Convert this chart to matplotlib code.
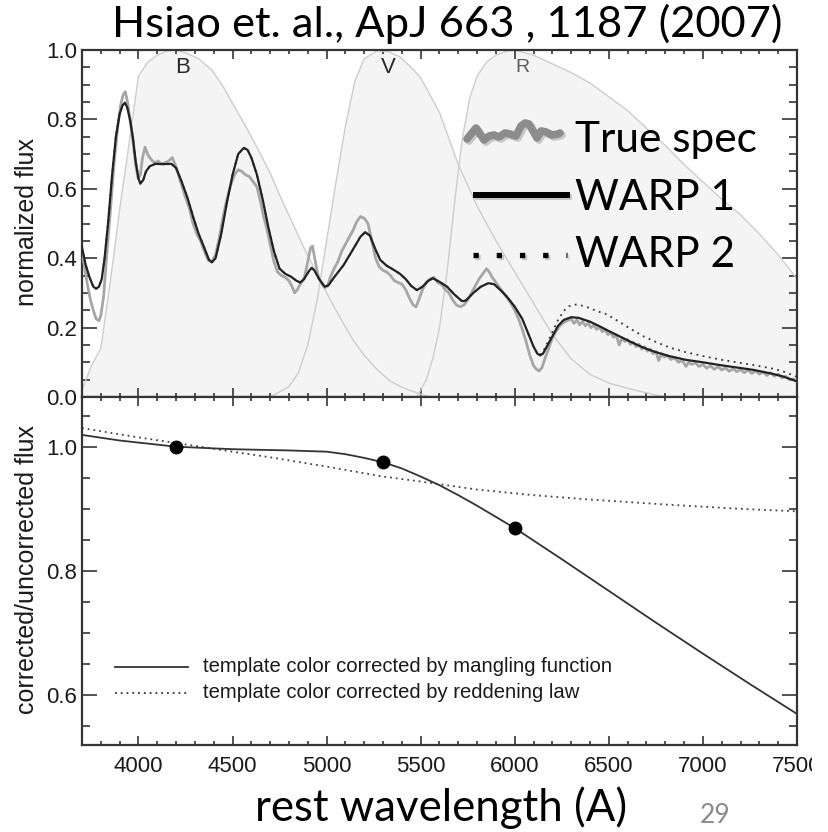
import matplotlib
matplotlib.use("Agg")
import matplotlib.pyplot as plt
import matplotlib.patheffects as pe
from matplotlib import font_manager as fm
from matplotlib.lines import Line2D
from matplotlib.ticker import MultipleLocator
from matplotlib.transforms import Bbox, TransformedBbox

# ---------------- data ----------------
# WARP 1 (mangled template), normalized flux
warp1_wave = [3700, 3720, 3740, 3760, 3775, 3790, 3805, 3820, 3840, 3860, 3880, 3900,
              3915, 3928, 3940, 3955, 3970, 3985, 4000, 4010, 4025, 4040, 4060, 4090,
              4130, 4175, 4200, 4230, 4260, 4290, 4320, 4350, 4375, 4390, 4410, 4440,
              4470, 4500, 4530, 4560, 4580, 4600, 4630, 4660, 4690, 4720, 4750, 4780,
              4810, 4840, 4860, 4880, 4905, 4920, 4935, 4960, 4990, 5010, 5040, 5090,
              5140, 5180, 5205, 5230, 5260, 5285, 5320, 5355, 5390, 5420, 5450, 5480,
              5510, 5540, 5565, 5600, 5640, 5680, 5720, 5740, 5780, 5820, 5860, 5890,
              5930, 5960, 6000, 6040, 6070, 6100, 6120, 6135, 6150, 6170, 6200, 6230,
              6260, 6300, 6340, 6400, 6450, 6500, 6560, 6620, 6680, 6740, 6820, 6910,
              7000, 7090, 7180, 7270, 7360, 7420, 7500]
warp1_flux = [0.43, 0.38, 0.345, 0.318, 0.312, 0.318, 0.34, 0.40, 0.51, 0.64, 0.75, 0.815,
              0.84, 0.848, 0.835, 0.80, 0.75, 0.68, 0.63, 0.615, 0.625, 0.65, 0.665, 0.672,
              0.671, 0.672, 0.66, 0.62, 0.575, 0.52, 0.47, 0.43, 0.395, 0.388, 0.40, 0.47,
              0.56, 0.64, 0.70, 0.718, 0.712, 0.69, 0.64, 0.57, 0.49, 0.42, 0.37, 0.355,
              0.347, 0.335, 0.33, 0.34, 0.362, 0.372, 0.365, 0.34, 0.318, 0.322, 0.345, 0.38,
              0.425, 0.462, 0.475, 0.465, 0.425, 0.395, 0.378, 0.367, 0.355, 0.34, 0.32, 0.308,
              0.318, 0.335, 0.342, 0.332, 0.318, 0.295, 0.276, 0.278, 0.30, 0.318, 0.328, 0.325,
              0.305, 0.288, 0.26, 0.225, 0.185, 0.145, 0.125, 0.12, 0.125, 0.145, 0.175, 0.205,
              0.222, 0.23, 0.228, 0.217, 0.204, 0.19, 0.174, 0.158, 0.143, 0.131, 0.118, 0.107,
              0.10, 0.092, 0.085, 0.078, 0.068, 0.06, 0.045]

# WARP 2 (reddening-law template): on top of WARP 1 in the blue, higher in the red
warp2_wave = [3700, 3720, 3740, 3760, 3775, 3790, 3805, 3820, 3840, 3860, 3880, 3900,
              3915, 3928, 3940, 3955, 3970, 3985, 4000, 4010, 4025, 4040, 4060, 4090,
              4130, 4175, 4200, 4230, 4260, 4290, 4320, 4350, 4375, 4390, 4410, 4440,
              4470, 4500, 4530, 4560, 4580, 4600, 4630, 4660, 4690, 4720, 4750, 4780,
              4810, 4840, 4860, 4880, 4905, 4920, 4935, 4960, 4990, 5010, 5040, 5090,
              5140, 5180, 5205, 5230, 5260, 5285, 5320, 5355, 5390, 5420, 5450, 5480,
              5510, 5540, 5565, 5600, 5640, 5680, 5720, 5740, 5780, 5820, 5860, 5890,
              5930, 5960, 6000, 6040, 6070, 6100, 6120, 6135, 6150, 6170, 6200, 6230,
              6260, 6290, 6330, 6380, 6440, 6490, 6560, 6620, 6680, 6740, 6820, 6910,
              7000, 7090, 7180, 7270, 7360, 7420, 7500]
warp2_flux = [0.43, 0.38, 0.345, 0.318, 0.312, 0.318, 0.34, 0.40, 0.51, 0.64, 0.75, 0.815,
              0.84, 0.848, 0.835, 0.80, 0.75, 0.68, 0.63, 0.615, 0.625, 0.65, 0.665, 0.672,
              0.671, 0.672, 0.66, 0.62, 0.575, 0.52, 0.47, 0.43, 0.395, 0.388, 0.40, 0.47,
              0.56, 0.64, 0.70, 0.718, 0.712, 0.69, 0.64, 0.57, 0.49, 0.42, 0.37, 0.355,
              0.347, 0.335, 0.33, 0.34, 0.362, 0.372, 0.365, 0.34, 0.318, 0.322, 0.345, 0.38,
              0.425, 0.462, 0.475, 0.465, 0.425, 0.395, 0.378, 0.367, 0.355, 0.34, 0.32, 0.308,
              0.318, 0.335, 0.342, 0.332, 0.318, 0.295, 0.276, 0.278, 0.30, 0.318, 0.328, 0.325,
              0.305, 0.288, 0.26, 0.225, 0.185, 0.145, 0.125, 0.122, 0.13, 0.152, 0.187, 0.222,
              0.248, 0.262, 0.267, 0.26, 0.247, 0.238, 0.215, 0.195, 0.176, 0.161, 0.143, 0.129,
              0.118, 0.108, 0.10, 0.092, 0.083, 0.075, 0.058]

# True spectrum (noisy)
true_wave = [3700, 3715, 3730, 3745, 3760, 3775, 3790, 3800, 3815, 3830, 3850, 3870,
             3890, 3905, 3918, 3930, 3942, 3955, 3970, 3985, 3998, 4010, 4022, 4035,
             4048, 4060, 4075, 4090, 4105, 4120, 4140, 4160, 4180, 4195, 4210, 4230,
             4250, 4270, 4290, 4310, 4330, 4350, 4370, 4390, 4410, 4430, 4450, 4470,
             4490, 4510, 4530, 4550, 4570, 4590, 4610, 4630, 4650, 4665, 4680, 4700,
             4720, 4740, 4760, 4780, 4800, 4815, 4830, 4845, 4860, 4880, 4900, 4915,
             4925, 4940, 4955, 4970, 4990, 5005, 5020, 5040, 5060, 5080, 5100, 5120,
             5140, 5160, 5180, 5200, 5220, 5240, 5260, 5280, 5300, 5320, 5340, 5360,
             5380, 5400, 5420, 5440, 5460, 5475, 5490, 5510, 5530, 5550, 5570, 5590,
             5610, 5630, 5650, 5670, 5690, 5710, 5730, 5750, 5770, 5790, 5810, 5830,
             5850, 5865, 5880, 5900, 5920, 5940, 5960, 5980, 6000, 6020, 6040, 6060,
             6080, 6100, 6115, 6130, 6145, 6160, 6180, 6200, 6220, 6240, 6260, 6280,
             6300, 6315, 6330, 6345, 6360, 6375, 6390, 6405, 6420, 6435, 6450, 6465,
             6480, 6495, 6510, 6525, 6540, 6555, 6570, 6585, 6600, 6615, 6630, 6645,
             6660, 6675, 6690, 6705, 6720, 6735, 6750, 6765, 6780, 6795, 6810, 6830,
             6850, 6870, 6890, 6910, 6925, 6940, 6960, 6980, 7000, 7020, 7040, 7060,
             7080, 7100, 7120, 7140, 7160, 7180, 7200, 7220, 7240, 7260, 7280, 7300,
             7320, 7340, 7360, 7380, 7400, 7420, 7440, 7460, 7480, 7500]
true_flux = [0.42, 0.37, 0.32, 0.28, 0.25, 0.225, 0.22, 0.235, 0.29, 0.40, 0.53, 0.67,
             0.78, 0.84, 0.87, 0.88, 0.85, 0.80, 0.74, 0.67, 0.63, 0.64, 0.69, 0.72,
             0.70, 0.69, 0.68, 0.675, 0.68, 0.672, 0.675, 0.68, 0.69, 0.67, 0.645, 0.61,
             0.575, 0.545, 0.50, 0.47, 0.45, 0.42, 0.395, 0.39, 0.41, 0.46, 0.52, 0.57,
             0.61, 0.64, 0.655, 0.65, 0.64, 0.635, 0.62, 0.605, 0.56, 0.52, 0.49, 0.44,
             0.39, 0.36, 0.35, 0.345, 0.335, 0.32, 0.30, 0.31, 0.325, 0.34, 0.39, 0.43,
             0.435, 0.39, 0.35, 0.33, 0.315, 0.32, 0.345, 0.37, 0.39, 0.42, 0.44, 0.46,
             0.48, 0.505, 0.52, 0.515, 0.50, 0.45, 0.40, 0.375, 0.365, 0.36, 0.35, 0.335,
             0.33, 0.325, 0.31, 0.285, 0.265, 0.26, 0.28, 0.31, 0.33, 0.34, 0.345, 0.33,
             0.325, 0.31, 0.30, 0.28, 0.265, 0.26, 0.265, 0.28, 0.30, 0.32, 0.34, 0.355,
             0.37, 0.36, 0.345, 0.33, 0.315, 0.30, 0.285, 0.27, 0.25, 0.225, 0.195, 0.16,
             0.12, 0.09, 0.08, 0.075, 0.085, 0.11, 0.14, 0.17, 0.19, 0.205, 0.215, 0.22,
             0.225, 0.212, 0.222, 0.208, 0.218, 0.205, 0.213, 0.2, 0.207, 0.195, 0.202, 0.188,
             0.194, 0.18, 0.186, 0.172, 0.178, 0.15, 0.17, 0.16, 0.166, 0.152, 0.158, 0.145,
             0.152, 0.138, 0.145, 0.132, 0.138, 0.125, 0.131, 0.105, 0.125, 0.115, 0.12, 0.108,
             0.113, 0.1, 0.106, 0.088, 0.1, 0.094, 0.098, 0.088, 0.094, 0.083, 0.09, 0.08,
             0.087, 0.078, 0.084, 0.074, 0.082, 0.073, 0.079, 0.07, 0.078, 0.068, 0.075, 0.066,
             0.072, 0.062, 0.07, 0.06, 0.066, 0.055, 0.06, 0.05, 0.052, 0.045]

# Filter transmission curves (normalized)
b_wave = [3700, 3750, 3800, 3850, 3900, 3950, 4000, 4050, 4100, 4150, 4200, 4260,
          4320, 4390, 4450, 4510, 4570, 4630, 4700, 4760, 4820, 4880, 4940, 5000,
          5070, 5140, 5200, 5270, 5340, 5400, 5500, 5550]
b_trans = [0.02, 0.09, 0.14, 0.33, 0.54, 0.73, 0.925, 0.965, 0.985, 0.997, 1.0, 0.99,
           0.975, 0.942, 0.895, 0.837, 0.78, 0.72, 0.645, 0.57, 0.50, 0.43, 0.365, 0.30,
           0.23, 0.165, 0.12, 0.078, 0.045, 0.028, 0.008, 0.0]
v_wave = [4700, 4800, 4850, 4900, 4950, 5000, 5050, 5100, 5150, 5200, 5270, 5330,
          5390, 5440, 5500, 5600, 5700, 5800, 5900, 6000, 6100, 6200, 6300, 6400,
          6500, 6600, 6700, 6800]
v_trans = [0.0, 0.03, 0.07, 0.15, 0.28, 0.45, 0.62, 0.78, 0.91, 0.975, 0.998, 0.995,
           0.98, 0.955, 0.92, 0.82, 0.67, 0.55, 0.45, 0.36, 0.27, 0.18, 0.11, 0.065,
           0.04, 0.025, 0.012, 0.0]
r_wave = [5480, 5530, 5567, 5600, 5640, 5680, 5720, 5760, 5800, 5850, 5900, 5960,
          6000, 6100, 6200, 6300, 6400, 6500, 6600, 6700, 6800, 6900, 7000, 7100,
          7200, 7300, 7400, 7500]
r_trans = [0.0, 0.05, 0.116, 0.2, 0.36, 0.56, 0.74, 0.86, 0.925, 0.965, 0.985, 0.997,
           1.0, 0.985, 0.96, 0.935, 0.905, 0.865, 0.825, 0.775, 0.725, 0.67, 0.62, 0.57,
           0.525, 0.47, 0.41, 0.34]
filter_names = ["B", "V", "R"]
filter_label_wave = [4237, 5326, 6039]

# Ratio of corrected to uncorrected flux
mangle_wave = [3700, 3900, 4200, 4500, 4800, 5000, 5100, 5200, 5300, 5400, 5500, 5600,
               5700, 5800, 5900, 6000, 6250, 6500, 6750, 7000, 7250, 7500]
mangle_ratio = [1.019, 1.010, 1.0, 0.996, 0.994, 0.992, 0.988, 0.982, 0.975, 0.965, 0.952,
                0.938, 0.922, 0.905, 0.887, 0.869, 0.819, 0.768, 0.717, 0.667, 0.618, 0.57]
redden_wave = [3700, 4000, 4200, 4500, 4700, 5000, 5300, 5500, 5800, 6100, 6400, 6800, 7200, 7500]
redden_ratio = [1.03, 1.015, 1.006, 0.992, 0.983, 0.968, 0.952, 0.944, 0.931, 0.922, 0.915,
                0.907, 0.90, 0.896]
anchor_wave = [4200, 5300, 6000]
anchor_ratio = [1.0, 0.975, 0.87]

legend_top = ["True spec", "WARP 1", "WARP 2"]
legend_bottom = ["template color corrected by mangling function",
                 "template color corrected by reddening law"]

# ---------------- fonts ----------------
installed = {f.name for f in fm.fontManager.ttflist}
if "Liberation Sans Narrow" in installed:
    AXFONT, TICKSIZE, LABSIZE, LEGSIZE = "Liberation Sans Narrow", 18, 20, 17
else:
    AXFONT, TICKSIZE, LABSIZE, LEGSIZE = "Liberation Sans", 16, 18, 14.6
SLIDEFONT = ["Lato", "DejaVu Sans"]

W, H = 829, 832
fig = plt.figure(figsize=(W / 100, H / 100), dpi=100)
fig.patch.set_facecolor("white")

L, R_, T1, MID, B2 = 82, 797, 50, 397, 745
ax1 = fig.add_axes([L / W, 1 - MID / H, (R_ - L) / W, (MID - T1) / H])
ax2 = fig.add_axes([L / W, 1 - B2 / H, (R_ - L) / W, (B2 - MID) / H])

SPINE = "#353535"
for ax in (ax1, ax2):
    ax.set_xlim(3700, 7500)
    for s in ax.spines.values():
        s.set_color(SPINE)
        s.set_linewidth(1.6)
    ax.xaxis.set_major_locator(MultipleLocator(500))
    ax.xaxis.set_minor_locator(MultipleLocator(100))
    ax.yaxis.set_minor_locator(MultipleLocator(0.05))
    ax.tick_params(which="both", direction="in", top=True, right=True, colors=SPINE,
                   width=1.2, labelcolor="#1a1a1a")
    ax.tick_params(axis="x", which="major", length=6.5)
    ax.tick_params(axis="x", which="minor", length=3.2)
    ax.tick_params(axis="y", which="major", length=10.8, pad=3.5)
    ax.tick_params(axis="y", which="minor", length=5.8)

# ---------- top panel: spectra and filters ----------
ax1.set_ylim(0, 1.0)
ax1.tick_params(axis="x", labelbottom=False)
ax1.set_yticks([0.0, 0.2, 0.4, 0.6, 0.8, 1.0])
ax1.set_yticklabels(["0.0", "0.2", "0.4", "0.6", "0.8", "1.0"], fontfamily=AXFONT,
                    fontsize=TICKSIZE)

filters = [(b_wave, b_trans), (v_wave, v_trans), (r_wave, r_trans)]
for wv, tr in filters:
    ax1.fill_between(wv, 0, tr, color="#f4f4f4", lw=0, zorder=1)
for wv, tr in filters:
    ax1.plot(wv, tr, color="#cdcdcd", lw=1.0, zorder=2)
for name, wl in zip(filter_names, filter_label_wave):
    ax1.text(wl, 0.951, name, ha="center", va="center", fontfamily=AXFONT,
             fontsize=16 if name != "R" else 14,
             color="#2a2a2a" if name != "R" else "#5a5a5a", zorder=3)

ax1.plot(true_wave, true_flux, color="#a6a6a6", lw=2.0, zorder=4)
ax1.plot(warp2_wave, warp2_flux, color="#333333", lw=1.3, ls=(0, (1, 2.5)), zorder=5)
ax1.plot(warp1_wave, warp1_flux, color="#222222", lw=1.6, zorder=6)

# slide-style legend in the top panel (pixel layout converted to axes fraction)
def ax1_xy(px, py):
    return (px - L) / (R_ - L), (MID - py) / (MID - T1)

shadow = [pe.SimpleLineShadow(offset=(1.5, -1.5), shadow_color="#777777", alpha=0.35), pe.Normal()]
wig_px = [467, 471, 476, 480, 484, 489, 494, 499, 505, 510, 516, 521, 525, 529, 533, 537,
          541, 546, 552, 558, 560]
wig_py = [139, 134, 128, 134, 140, 136, 135, 137, 133, 134, 136, 126, 123, 124, 131, 138,
          131, 132, 135, 134, 133]
wx, wy = zip(*[ax1_xy(a, b) for a, b in zip(wig_px, wig_py)])
ax1.add_line(Line2D(wx, wy, transform=ax1.transAxes, color="#8c8c8c", lw=5.5,
                    solid_capstyle="round", solid_joinstyle="round", path_effects=shadow,
                    zorder=7))
x0, y0 = ax1_xy(473, 195)
x1_, _ = ax1_xy(570, 195)
ax1.add_line(Line2D([x0, x1_], [y0, y0], transform=ax1.transAxes, color="black", lw=4.3,
                    solid_capstyle="butt", path_effects=shadow, zorder=7))
x0, y0 = ax1_xy(473, 255)
x1_, _ = ax1_xy(567, 255)
ax1.add_line(Line2D([x0, x1_], [y0, y0], transform=ax1.transAxes, color="black", lw=3.8,
                    ls=(0, (1, 3.4)), dash_capstyle="butt", path_effects=shadow, zorder=7))
for label, py in zip(legend_top, [152, 210, 267]):
    tx, ty = ax1_xy(575, py)
    ax1.text(tx, ty, label, transform=ax1.transAxes, ha="left", va="baseline",
             fontfamily=SLIDEFONT, fontsize=30.5, color="black", zorder=8)

# ---------- bottom panel: correction ratio ----------
ax2.set_ylim(0.52, 1.08)
ax2.set_yticks([0.6, 0.8, 1.0])
ax2.set_yticklabels(["0.6", "0.8", "1.0"], fontfamily=AXFONT, fontsize=TICKSIZE)
ax2.set_xticks([4000, 4500, 5000, 5500, 6000, 6500, 7000, 7500])
ax2.set_xticklabels(["4000", "4500", "5000", "5500", "6000", "6500", "7000", "7500"],
                    fontfamily=AXFONT, fontsize=TICKSIZE)
ax2.tick_params(axis="x", which="major", pad=8)

ax2.plot(redden_wave, redden_ratio, color="#444444", lw=1.3, ls=(0, (1, 2.2)))
ax2.plot(mangle_wave, mangle_ratio, color="#333333", lw=1.3)
ax2.plot(anchor_wave, anchor_ratio, ls="none", marker="o", ms=9, color="black")

def ax2_xy(px, py):
    return (px - L) / (R_ - L), (B2 - py) / (B2 - MID)

for (label, py, style) in zip(legend_bottom, [667, 693], ["-", (0, (1, 2.2))]):
    a, b = ax2_xy(115, py)
    c, _ = ax2_xy(188, py)
    ax2.add_line(Line2D([a, c], [b, b], transform=ax2.transAxes, color="#333333", lw=1.3,
                        ls=style))
    tx, ty = ax2_xy(203, py)
    ax2.text(tx, ty, label, transform=ax2.transAxes, ha="left", va="center",
             fontfamily=AXFONT, fontsize=LEGSIZE, color="#1a1a1a")

# the page edge trims the last wavelength label
edge = TransformedBbox(Bbox([[0, 0], [812 / W, 1]]), fig.transFigure)
last = ax2.get_xticklabels()[-1]
last.set_clip_box(edge)
last.set_clip_on(True)

# ---------- axis titles and slide text ----------
fig.text(27 / W, 1 - 222 / H, "normalized flux", rotation=90, ha="center", va="center",
         fontfamily=AXFONT, fontsize=LABSIZE, color="#1a1a1a")
fig.text(27 / W, 1 - 570 / H, "corrected/uncorrected flux", rotation=90, ha="center",
         va="center", fontfamily=AXFONT, fontsize=LABSIZE, color="#1a1a1a")
fig.text(447 / W, 1 - 37 / H, "Hsiao et. al., ApJ 663 , 1187 (2007)", ha="center",
         va="baseline", fontfamily=SLIDEFONT, fontsize=31.3, color="black")
fig.text(441 / W, 1 - 821 / H, "rest wavelength (A)", ha="center", va="baseline",
         fontfamily=SLIDEFONT, fontsize=31.5, color="black")
fig.text(715 / W, 1 - 823 / H, "29", ha="center", va="baseline",
         fontfamily=SLIDEFONT, fontsize=19, color="#8a8a8a")

fig.savefig("out.png", dpi=100, facecolor="white")
